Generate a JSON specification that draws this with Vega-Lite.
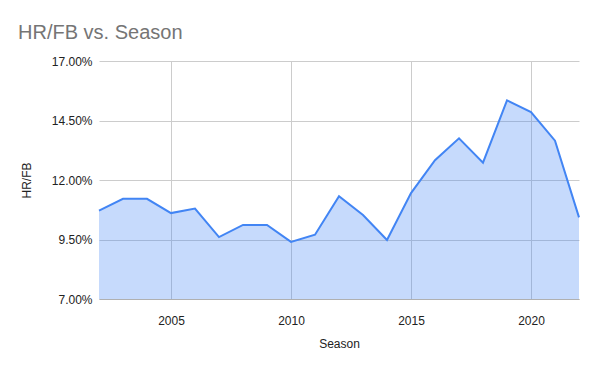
{
  "$schema": "https://vega.github.io/schema/vega-lite/v6.json",
  "width": 480,
  "height": 238,
  "autosize": {"type": "none"},
  "padding": {"left": 99, "top": 61, "right": 21, "bottom": 72},
  "background": "white",
  "title": {
    "text": "HR/FB vs. Season",
    "anchor": "start",
    "frame": "group",
    "dx": -81,
    "offset": 12,
    "font": "Liberation Sans",
    "fontSize": 20,
    "fontWeight": "normal",
    "color": "#757575"
  },
  "config": {
    "view": {"stroke": null},
    "font": "Liberation Sans"
  },
  "data": {
    "values": [
      {"Season": 2002, "HRFB": 0.1071},
      {"Season": 2003, "HRFB": 0.1121},
      {"Season": 2004, "HRFB": 0.1121},
      {"Season": 2005, "HRFB": 0.1061},
      {"Season": 2006, "HRFB": 0.1080},
      {"Season": 2007, "HRFB": 0.0960},
      {"Season": 2008, "HRFB": 0.1011},
      {"Season": 2009, "HRFB": 0.1011},
      {"Season": 2010, "HRFB": 0.0940},
      {"Season": 2011, "HRFB": 0.0970},
      {"Season": 2012, "HRFB": 0.1132},
      {"Season": 2013, "HRFB": 0.1053},
      {"Season": 2014, "HRFB": 0.0948},
      {"Season": 2015, "HRFB": 0.1145},
      {"Season": 2016, "HRFB": 0.1283},
      {"Season": 2017, "HRFB": 0.1375},
      {"Season": 2018, "HRFB": 0.1273},
      {"Season": 2019, "HRFB": 0.1535},
      {"Season": 2020, "HRFB": 0.1485},
      {"Season": 2021, "HRFB": 0.1365},
      {"Season": 2022, "HRFB": 0.1043}
    ]
  },
  "encoding": {
    "x": {
      "field": "Season",
      "type": "quantitative",
      "scale": {"domain": [2002, 2022], "nice": false, "zero": false},
      "axis": {
        "title": "Season",
        "values": [2005, 2010, 2015, 2020],
        "format": "d",
        "grid": true,
        "gridColor": "#cccccc",
        "domain": true,
        "domainColor": "#b0b0b0",
        "ticks": false,
        "labelPadding": 16,
        "labelFontSize": 12,
        "labelColor": "#222222",
        "titleFontSize": 12,
        "titleFontWeight": "normal",
        "titleColor": "#222222",
        "titlePadding": 12
      }
    },
    "y": {
      "field": "HRFB",
      "type": "quantitative",
      "scale": {"domain": [0.07, 0.17], "nice": false, "zero": false},
      "axis": {
        "title": "HR/FB",
        "values": [0.07, 0.095, 0.12, 0.145, 0.17],
        "format": ".2%",
        "grid": true,
        "gridColor": "#cccccc",
        "domain": false,
        "ticks": false,
        "labelPadding": 7,
        "labelFontSize": 12,
        "labelColor": "#222222",
        "titleFontSize": 12,
        "titleFontWeight": "normal",
        "titleColor": "#222222",
        "titlePadding": 18
      }
    }
  },
  "layer": [
    {
      "mark": {"type": "area", "color": "#4285F4", "opacity": 0.3, "clip": true}
    },
    {
      "mark": {"type": "line", "color": "#4285F4", "strokeWidth": 2}
    }
  ]
}
